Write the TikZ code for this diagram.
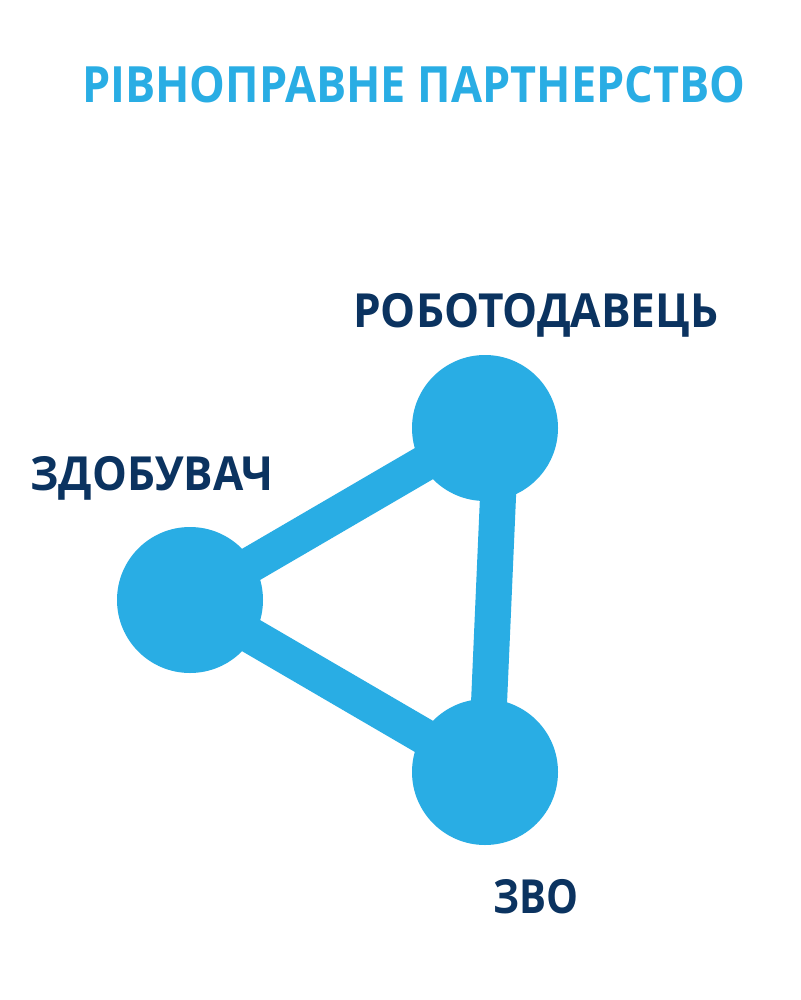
\documentclass[tikz,border=0pt]{standalone}
\usepackage{fontspec}
\usepackage{graphicx}
\setmainfont{Open Sans}[BoldFont={* Bold}]
\definecolor{skyblue}{HTML}{29ADE4}
\definecolor{navy}{HTML}{0B3360}
\begin{document}
\begin{tikzpicture}[x=1pt,y=-1pt,
  hub/.style={circle,fill=skyblue,minimum size=146pt,inner sep=0},
  link/.style={draw=skyblue,line width=36pt},
  ttl/.style={anchor=base west,inner sep=0,text=skyblue,font=\bfseries\fontsize{50}{50}\selectfont},
  lbl/.style={anchor=base west,inner sep=0,text=navy,font=\bfseries\fontsize{47}{47}\selectfont}]
\useasboundingbox[fill=white] (0,0) rectangle (800,1000);
\coordinate (cz) at (190,600);
\coordinate (cr) at (485,428);
\coordinate (cv) at (485,772);
\coordinate (rt) at (501,428);
\coordinate (vt) at (486,772);
\draw[link] (cz) -- (cr);
\draw[link] (cz) -- (cv);
\draw[link] (rt) -- (vt);
\node[hub] (z) at (cz) {};
\node[hub] (r) at (cr) {};
\node[hub] (v) at (cv) {};
\node[ttl] (title) at (82,103) {\resizebox{663pt}{\height}{РІВНОПРАВНЕ ПАРТНЕРСТВО}};
\node[lbl] (lr) at (353,327) {\resizebox{365pt}{\height}{РОБОТОДАВЕЦЬ}};
\node[lbl] (lz) at (30,490) {\resizebox{243pt}{\height}{ЗДОБУВАЧ}};
\node[lbl] (lv) at (493,913) {\resizebox{85pt}{\height}{ЗВО}};
\end{tikzpicture}
\end{document}
